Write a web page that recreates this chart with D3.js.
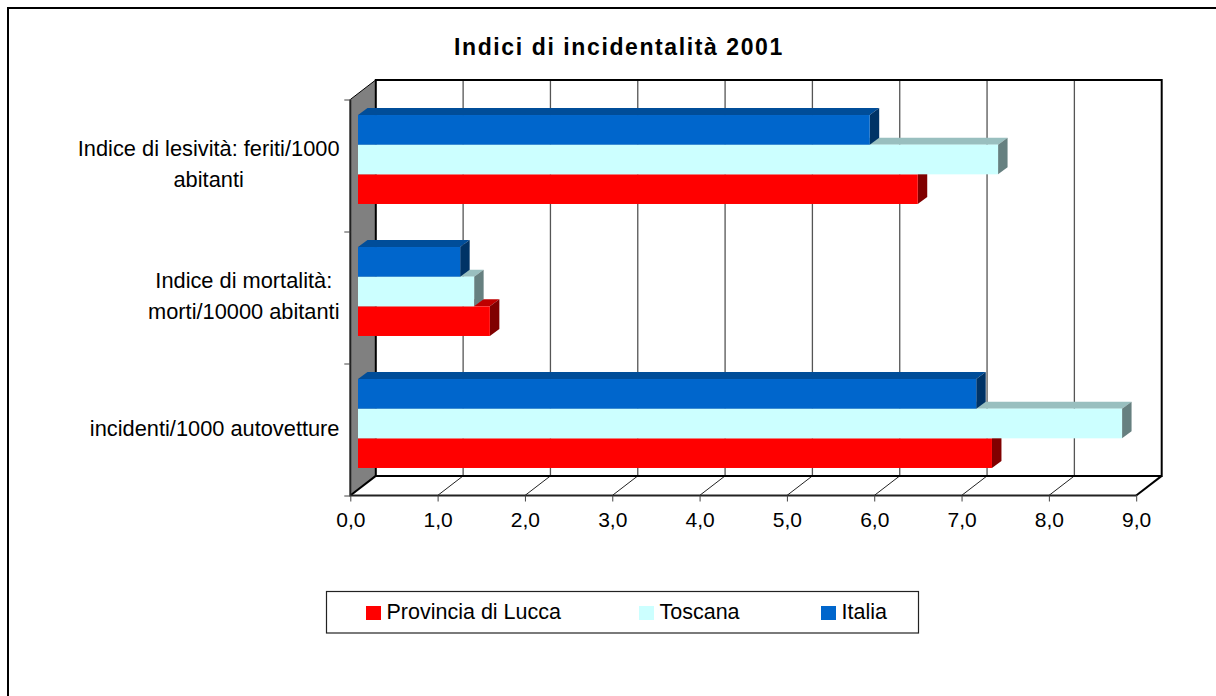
<!DOCTYPE html>
<html>
<head>
<meta charset="utf-8">
<script src="https://d3js.org/d3.v7.min.js"></script>
<style>
  html, body { margin: 0; padding: 0; background: #fff; overflow: hidden; }
  text { font-family: "Liberation Sans", Arial, sans-serif; fill: #000; }
</style>
</head>
<body>
<script>
// values
var chartTitle = "Indici di incidentalità 2001";
var categories = ["lesivita", "mortalita", "incidenti"];
var categoryLines = [
  ["Indice di lesività: feriti/1000", "abitanti"],
  ["Indice di mortalità:", "morti/10000 abitanti"],
  ["incidenti/1000 autovetture"]
];
var seriesNames = ["Italia", "Toscana", "Provincia di Lucca"];
var italia = [5.86, 1.17, 7.08];
var toscana = [7.33, 1.33, 8.75];
var lucca = [6.41, 1.51, 7.26];
var xTicks = [0, 1, 2, 3, 4, 5, 6, 7, 8, 9];
var legendOrder = ["Provincia di Lucca", "Toscana", "Italia"];

var seriesValues = { "Italia": italia, "Toscana": toscana, "Provincia di Lucca": lucca };
var colors = { "Italia": "#0066cc", "Toscana": "#ccffff", "Provincia di Lucca": "#ff0000" };

// floor and wall geometry
var left = 350.3, right = 1136.2, top_ = 99.5, bottom = 495.5;
var depthX = 25.5, depthY = -19.6;       // whole box depth
var barDX = 7.7, barDY = -6;             // bar plane inside the box
var capDX = 9.5, capDY = -7;             // bar thickness

var svg = d3.select("body").append("svg")
  .attr("width", 1216).attr("height", 696)
  .style("display", "block");

// outer frame, only top and left are in view
svg.append("path").attr("d", "M8,696V8H1216").attr("fill", "none").attr("stroke", "#000").attr("stroke-width", 2);

svg.append("text")
  .attr("x", 619).attr("y", 55)
  .attr("text-anchor", "middle")
  .style("font-size", "23px").style("font-weight", "bold").style("letter-spacing", "1.6px")
  .text(chartTitle);

var x = d3.scaleLinear().domain([0, 9]).range([left, right]);
var yEdge = d3.scaleLinear().domain([0, 3]).range([top_, bottom]);
var y = d3.scaleBand().domain(categories).range([top_, bottom]).paddingInner(0.326).paddingOuter(0.163);
var yInner = d3.scaleBand().domain(seriesNames).range([0, y.bandwidth()]);

// left wall
svg.append("path")
  .attr("d", d3.line()([[left, top_], [left + depthX, top_ + depthY], [left + depthX, bottom + depthY], [left, bottom]]) + "Z")
  .attr("fill", "#808080");

// grid on back wall and floor
var grid = svg.append("g");
grid.selectAll("line.back").data(xTicks.slice(1, -1)).enter().append("line")
  .attr("class", "back")
  .attr("x1", d => x(d) + depthX).attr("x2", d => x(d) + depthX)
  .attr("y1", top_ + depthY).attr("y2", bottom + depthY)
  .attr("stroke", "#555").attr("stroke-width", 1.3);
grid.selectAll("line.floor").data(xTicks.slice(1, -1)).enter().append("line")
  .attr("class", "floor")
  .attr("x1", d => x(d)).attr("x2", d => x(d) + depthX)
  .attr("y1", bottom).attr("y2", bottom + depthY)
  .attr("stroke", "#222").attr("stroke-width", 1);

// box outline
var box = svg.append("g").attr("fill", "none").attr("stroke", "#000").attr("stroke-width", 2);
box.append("path").attr("d", d3.line()([[left + depthX, bottom + depthY], [left + depthX, top_ + depthY], [right + depthX, top_ + depthY], [right + depthX, bottom + depthY], [left + depthX, bottom + depthY]]));
box.append("path").attr("d", d3.line()([[right, bottom], [right + depthX, bottom + depthY]]));
box.append("path").attr("d", d3.line()([[left, bottom], [left + depthX, bottom + depthY]]));
box.append("path").attr("d", d3.line()([[left, top_], [left + depthX, top_ + depthY]])).attr("stroke-width", 1);
box.append("path").attr("d", d3.line()([[left, top_], [left, bottom], [right, bottom]])).attr("stroke", "#222");

// bars, drawn bottom to top so the upper side faces lie over the lower caps
var order = seriesNames.slice().reverse();
categories.forEach(function(cat, i) {
  order.forEach(function(name) {
    var c = d3.color(colors[name]);
    var x0 = x(0) + barDX, x1 = x(seriesValues[name][i]) + barDX;
    var y0 = y(cat) + yInner(name) + barDY, h = yInner.bandwidth();
    var g = svg.append("g");
    g.append("path")
      .attr("d", d3.line()([[x0, y0], [x0 + capDX, y0 + capDY], [x1 + capDX, y0 + capDY], [x1, y0]]) + "Z")
      .attr("fill", d3.rgb(c.r * 0.75, c.g * 0.75, c.b * 0.75));
    g.append("path")
      .attr("d", d3.line()([[x1, y0], [x1 + capDX, y0 + capDY], [x1 + capDX, y0 + h + capDY], [x1, y0 + h]]) + "Z")
      .attr("fill", d3.rgb(c.r * 0.5, c.g * 0.5, c.b * 0.5));
    g.append("rect")
      .attr("x", x0).attr("y", y0).attr("width", x1 - x0).attr("height", h)
      .attr("fill", colors[name]);
  });
});

// axes
var fmt = d3.formatLocale({ decimal: ",", thousands: ".", grouping: [3], currency: ["", ""] }).format(".1f");
var xAxis = svg.append("g")
  .attr("transform", "translate(0," + bottom + ")")
  .call(d3.axisBottom(x).tickValues(xTicks).tickFormat(fmt).tickSize(6).tickPadding(11));
xAxis.select(".domain").remove();
xAxis.selectAll("line").attr("stroke", "#444");
xAxis.selectAll("text").style("font-size", "21px").attr("fill", "#000");

var yAxis = svg.append("g")
  .attr("transform", "translate(" + left + ",0)")
  .call(d3.axisLeft(yEdge).ticks(3).tickFormat("").tickSize(6));
yAxis.select(".domain").remove();
yAxis.selectAll("line").attr("stroke", "#444");

// category labels, centred inside a block that ends at the axis
var labels = svg.append("g").style("font-size", "21.8px");
categoryLines.forEach(function(lines, i) {
  var t = labels.append("text").attr("text-anchor", "middle");
  var cy = y(categories[i]) + y.bandwidth() / 2;
  lines.forEach(function(line, k) {
    t.append("tspan").attr("dy", k ? 31 : 0).text(line);
  });
  t.attr("y", cy + 6 - (lines.length - 1) * 15.5);
  var w = d3.max(t.selectAll("tspan").nodes(), n => n.getComputedTextLength());
  t.selectAll("tspan").attr("x", 339.5 - w / 2);
});

// legend
svg.append("rect")
  .attr("x", 326.5).attr("y", 591.5).attr("width", 592).attr("height", 41.5)
  .attr("fill", "#fff").attr("stroke", "#222").attr("stroke-width", 1.2);
var legendX = d3.scaleOrdinal().domain(legendOrder).range([366, 639, 821]);
var legend = svg.append("g").selectAll("g").data(legendOrder).enter().append("g")
  .attr("transform", d => "translate(" + legendX(d) + ",606)");
legend.append("rect").attr("width", 15).attr("height", 14).attr("fill", d => colors[d]);
legend.append("text").attr("x", 20.5).attr("y", 12.5).style("font-size", "21.5px").text(d => d);
</script>
</body>
</html>
